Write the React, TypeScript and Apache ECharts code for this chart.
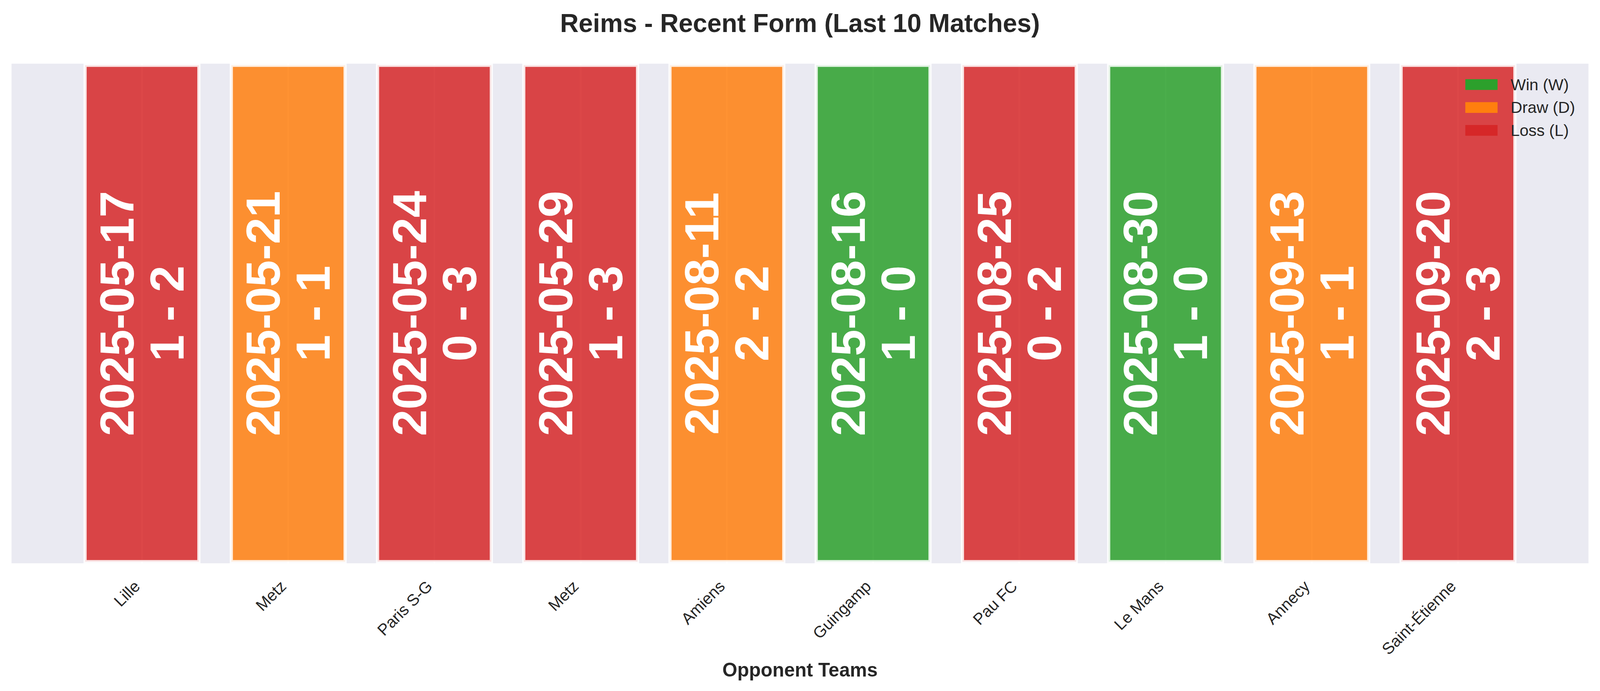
import React, { useEffect, useRef } from "react";
import * as echarts from "echarts";

const opponents = ["Lille", "Metz", "Paris S-G", "Metz", "Amiens", "Guingamp", "Pau FC", "Le Mans", "Annecy", "Saint-Étienne"];
const dates = ["2025-05-17", "2025-05-21", "2025-05-24", "2025-05-29", "2025-08-11", "2025-08-16", "2025-08-25", "2025-08-30", "2025-09-13", "2025-09-20"];
const scores = ["1 - 2", "1 - 1", "0 - 3", "1 - 3", "2 - 2", "1 - 0", "0 - 2", "1 - 0", "1 - 1", "2 - 3"];
const results = ["L", "D", "L", "L", "D", "W", "L", "W", "D", "L"];
const barValue = [1, 1, 1, 1, 1, 1, 1, 1, 1, 1];
const outcomeKeys = ["W", "D", "L"];
const outcomeNames = ["Win (W)", "Draw (D)", "Loss (L)"];
const outcomeColors = ["#2ca02c", "#ff7f0e", "#d62728"];

const FONT = "'Liberation Sans', Arial, Helvetica, sans-serif";
const TEXT = "#262626";

function rgba(hex: string, a: number) {
  const n = parseInt(hex.slice(1), 16);
  return `rgba(${(n >> 16) & 255},${(n >> 8) & 255},${n & 255},${a})`;
}

export default function App() {
  const ref = useRef<HTMLDivElement>(null);
  useEffect(() => {
    if (!ref.current) return;
    const el = ref.current;
    const W = el.clientWidth;
    const H = el.clientHeight;
    const sx = W / 4170;
    const sy = H / 1769;
    const s = Math.min(sx, sy);
    const chart = echarts.init(el, undefined, { renderer: "svg", width: W, height: H });

    const barSeries = outcomeKeys.map((k, j) => ({
      name: outcomeNames[j],
      type: "bar",
      stack: "form",
      barWidth: "80%",
      z: 3,
      itemStyle: {
        color: rgba(outcomeColors[j], 0.85),
        borderColor: "rgba(255,255,255,0.85)",
        borderWidth: 8.3 * s,
      },
      label: {
        show: true,
        position: "inside",
        rotate: 90,
        formatter: (p: any) => `${dates[p.dataIndex]}\n${scores[p.dataIndex]}`,
        color: "#ffffff",
        fontSize: 125 * s,
        fontWeight: "bold",
        fontFamily: FONT,
        lineHeight: 130 * s,
        padding: [0, 0, 33 * s, 0],
      },
      data: results.map((r, i) => (r === k ? barValue[i] : null)),
    }));

    const option: any = {
      animation: false,
      backgroundColor: "#ffffff",
      title: {
        text: "Reims - Recent Form (Last 10 Matches)",
        left: "center",
        top: 21 * sy,
        textStyle: { fontSize: 67 * s, fontWeight: "bold", color: TEXT, fontFamily: FONT },
      },
      graphic: [
        {
          type: "rect",
          z: 0,
          silent: true,
          shape: { x: 30 * sx, y: 163 * sy, width: 4110 * sx, height: 1279 * sy },
          style: { fill: "#EAEAF2" },
        },
      ],
      legend: {
        orient: "vertical",
        left: 3819 * sx,
        top: 196 * sy,
        padding: 0,
        itemWidth: 84 * s,
        itemHeight: 28 * s,
        itemGap: 18 * s,
        selectedMode: false,
        data: outcomeNames.map((n, j) => ({
          name: n,
          icon: "rect",
          itemStyle: { color: outcomeColors[j], borderWidth: 0, opacity: 1 },
        })),
        textStyle: { fontSize: 42 * s, color: TEXT, fontFamily: FONT, padding: [0, 0, 0, 29 * s] },
      },
      grid: { left: 179.5 * sx, right: 179.5 * sx, top: 163 * sy, bottom: 327 * sy, containLabel: false },
      xAxis: {
        type: "category",
        data: opponents,
        axisLine: { show: false },
        axisTick: { show: false },
        splitLine: { show: false },
        axisLabel: {
          rotate: 45,
          interval: 0,
          fontSize: 42 * s,
          color: TEXT,
          fontFamily: FONT,
          margin: 40 * s,
          padding: [0, 18 * s, 0, 0],
        },
        name: "Opponent Teams",
        nameLocation: "middle",
        nameGap: 243 * sy,
        nameTextStyle: { fontSize: 50 * s, fontWeight: "bold", color: TEXT, fontFamily: FONT },
      },
      yAxis: { type: "value", min: 0, max: 1, show: false },
      series: [
        {
          type: "custom",
          z: 1,
          silent: true,
          renderItem: (params: any, api: any) => {
            const top = api.coord([api.value(0), api.value(1)]);
            const bottom = api.coord([api.value(0), 0]);
            return {
              type: "line",
              shape: { x1: top[0], y1: top[1], x2: bottom[0], y2: bottom[1] },
              style: { stroke: "#ffffff", lineWidth: 4 * s },
            };
          },
          data: opponents.map((_, i) => [i, barValue[i]]),
        },
        ...barSeries,
      ],
    };
    chart.setOption(option);
    return () => chart.dispose();
  }, []);

  return (
    <div
      ref={ref}
      style={{ position: "fixed", left: 0, top: 0, width: "100vw", height: "100vh", background: "#ffffff" }}
    />
  );
}
